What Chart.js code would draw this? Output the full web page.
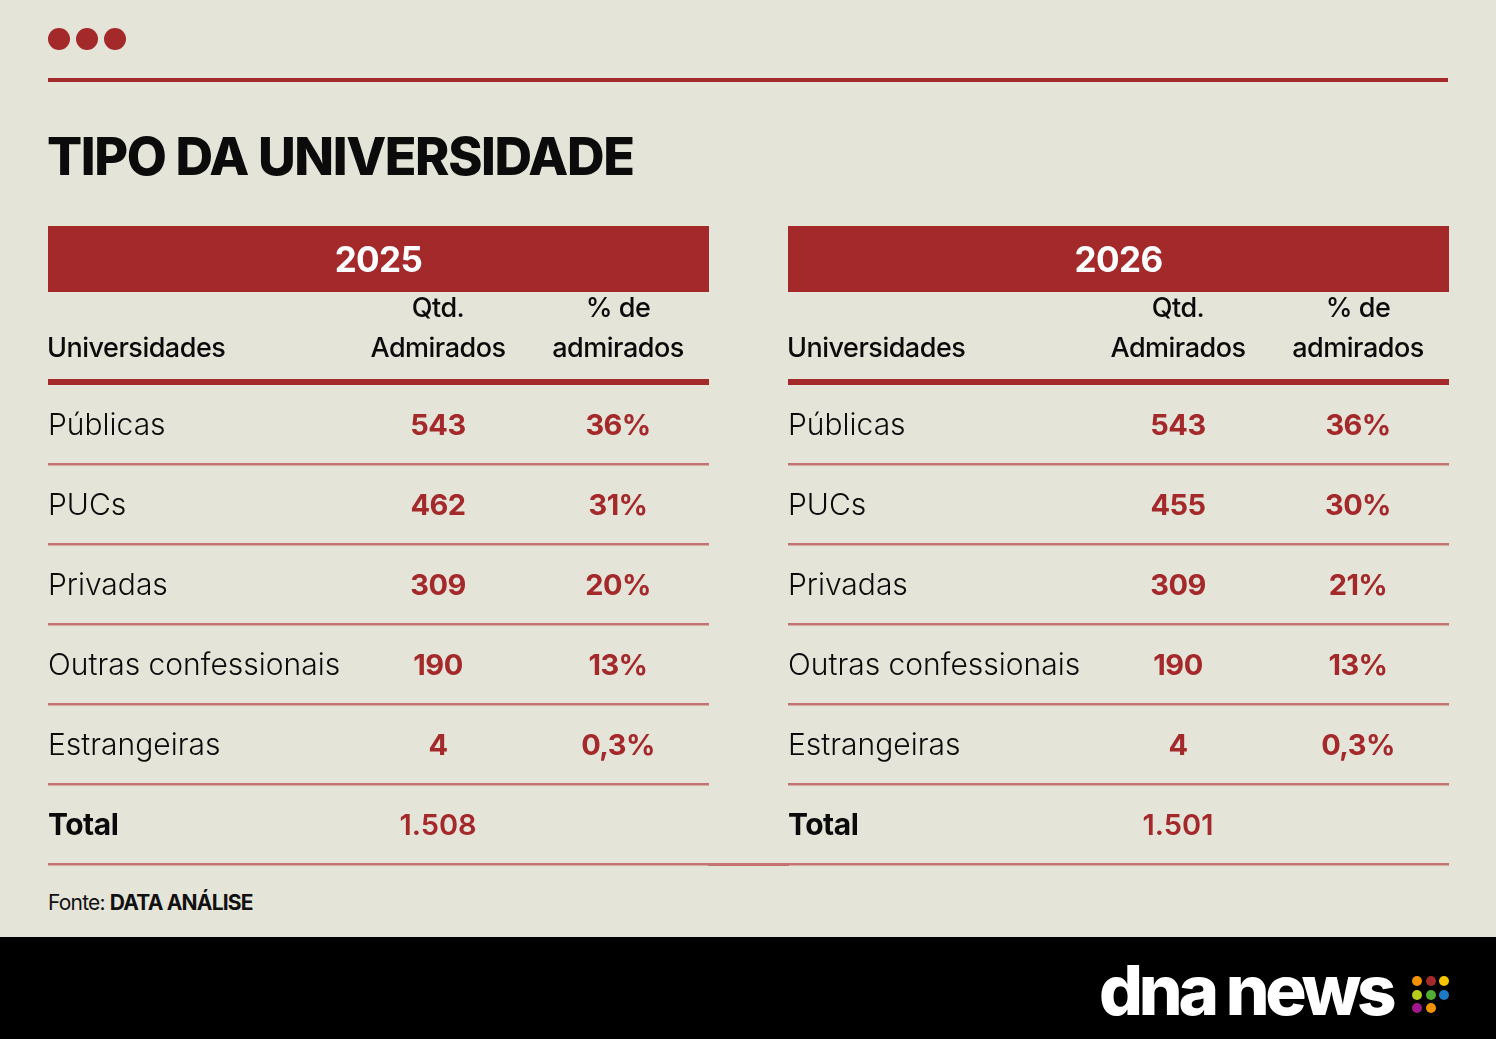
<!DOCTYPE html>
<html lang="pt-BR">
<head>
<meta charset="utf-8">
<title>Tipo da universidade</title>
<script src="https://cdn.jsdelivr.net/npm/chart.js@4/dist/chart.umd.min.js"></script>
<style>
  html, body { margin: 0; padding: 0; }
  body {
    width: 1496px; height: 1039px; position: relative; overflow: hidden;
    background: #e5e4d9; font-family: Inter, "Noto Sans", sans-serif; color: #111;
  }
  .dot { position: absolute; top: 28px; width: 22px; height: 22px; border-radius: 50%; background: #a4292b; }
  .rule { position: absolute; left: 48px; top: 78px; width: 1400px; height: 4px; background: #a4292b; }
  .title {
    position: absolute; left: 47px; top: 131px; margin: 0; line-height: 1;
    font-size: 52px; font-weight: 800; letter-spacing: -1.4px; color: #0b0b0b; white-space: nowrap;
  }
  .table-box { position: absolute; top: 226px; width: 661px; height: 642px; }
  .gap-line { position: absolute; left: 708px; top: 863px; width: 81px; height: 2.5px; background: #c47373; }
  .source {
    position: absolute; left: 48px; top: 892px; line-height: 1; font-size: 21px;
    letter-spacing: -0.8px; white-space: nowrap;
  }
  .source b { font-weight: 700; }
  .footer { position: absolute; left: 0; top: 937px; width: 1496px; height: 102px; background: #000; }
  .logo {
    position: absolute; left: 1099px; top: 956px; line-height: 1; font-size: 69px; font-weight: 800;
    letter-spacing: -4.2px; color: #fff; white-space: nowrap;
  }
  .ldot { position: absolute; width: 10px; height: 10px; border-radius: 50%; }
</style>
</head>
<body>
<div class="dot" style="left:48px"></div>
<div class="dot" style="left:76px"></div>
<div class="dot" style="left:104px"></div>
<div class="rule"></div>
<h1 class="title">TIPO DA UNIVERSIDADE</h1>

<div class="table-box" style="left:48px"><canvas id="table2025"></canvas></div>
<div class="table-box" style="left:788px"><canvas id="table2026"></canvas></div>
<div class="gap-line"></div>

<div class="source">Fonte: <b>DATA ANÁLISE</b></div>

<div class="footer"></div>
<div class="logo">dna news</div>
<div id="logoDots"></div>

<script>
// Data
const universities = ['Públicas', 'PUCs', 'Privadas', 'Outras confessionais', 'Estrangeiras'];
const totalLabel = 'Total';
const years = ['2025', '2026'];
const columnHeads = [['', 'Universidades'], ['Qtd.', 'Admirados'], ['% de', 'admirados']];

const admired2025 = [543, 462, 309, 190, 4];
const percent2025 = [36, 31, 20, 13, 0.3];
const total2025 = 1508;

const admired2026 = [543, 455, 309, 190, 4];
const percent2026 = [36, 30, 21, 13, 0.3];
const total2026 = 1501;

// Styles
const RED = '#a4292b';
const ROW_LINE = '#c47373';
const INK = '#0b0b0b';
const FONT = 'Inter, "Noto Sans", sans-serif';
const colX = [0, 390, 570];   // column anchors on the x scale (px inside the table)

const fmtNum = v => v.toLocaleString('pt-BR');
const fmtPct = v => v.toLocaleString('pt-BR') + '%';

// Draws header band, column heads and every cell text at the element positions
const tablePlugin = {
  id: 'tableText',
  beforeDatasetsDraw(chart) {
    const { ctx, chartArea, scales } = chart;
    const opts = chart.options.plugins.tableText;
    const w = chart.width;
    ctx.save();
    // year band
    ctx.fillStyle = RED;
    ctx.fillRect(0, 0, w, 66);
    ctx.fillStyle = '#fff';
    ctx.font = '700 35px ' + FONT;
    ctx.letterSpacing = '-0.6px';
    ctx.textAlign = 'center';
    ctx.textBaseline = 'alphabetic';
    ctx.fillText(opts.year, w / 2, 46);
    // column heads
    ctx.fillStyle = INK;
    ctx.font = '500 27px ' + FONT;
    ctx.letterSpacing = '-0.5px';
    columnHeads.forEach((lines, c) => {
      const x = scales.x.getPixelForValue(colX[c]);
      ctx.textAlign = c === 0 ? 'left' : 'center';
      ctx.fillText(lines[0], c === 0 ? x - 1 : x, 91);
      ctx.fillText(lines[1], c === 0 ? x - 1 : x, 131);
    });
    // thick rule under the heads
    ctx.fillStyle = RED;
    ctx.fillRect(0, chartArea.top - 5, w, 6);
    ctx.restore();
  },
  afterDatasetsDraw(chart) {
    const { ctx } = chart;
    ctx.save();
    ctx.textBaseline = 'alphabetic';
    chart.data.datasets.forEach((ds, di) => {
      const meta = chart.getDatasetMeta(di);
      meta.data.forEach((el, i) => {
        const cell = ds.data[i];
        const isTotal = cell.y === totalLabel;
        const st = isTotal ? ds.totalStyle : ds.cellStyle;
        ctx.font = st.font;
        ctx.fillStyle = st.color;
        ctx.letterSpacing = st.spacing;
        ctx.textAlign = ds.align;
        ctx.fillText(cell.text, el.x, el.y + st.lift);
      });
    });
    ctx.restore();
  }
};

function makeTable(canvasId, year, admired, percent, total) {
  const rowLabels = [...universities, totalLabel];
  new Chart(document.getElementById(canvasId), {
    type: 'scatter',
    plugins: [tablePlugin],
    data: {
      datasets: [
        {
          label: 'Universidades',
          data: rowLabels.map(r => ({ x: colX[0], y: r, text: r })),
          align: 'left',
          cellStyle: { font: '300 30px ' + FONT, color: INK, spacing: '0px', lift: 11 },
          totalStyle: { font: '700 30px ' + FONT, color: INK, spacing: '-0.5px', lift: 11 }
        },
        {
          label: 'Qtd. Admirados',
          data: rowLabels.map((r, i) => ({ x: colX[1], y: r, text: fmtNum(i < admired.length ? admired[i] : total) })),
          align: 'center',
          cellStyle: { font: '700 29px ' + FONT, color: RED, spacing: '-0.5px', lift: 10.5 },
          totalStyle: { font: '600 29px ' + FONT, color: RED, spacing: '0px', lift: 10.5 }
        },
        {
          label: '% de admirados',
          data: universities.map((r, i) => ({ x: colX[2], y: r, text: fmtPct(percent[i]) })),
          align: 'center',
          cellStyle: { font: '700 29px ' + FONT, color: RED, spacing: '-0.6px', lift: 10.5 },
          totalStyle: { font: '700 29px ' + FONT, color: RED, spacing: '-0.6px', lift: 10.5 }
        }
      ]
    },
    options: {
      responsive: true,
      maintainAspectRatio: false,
      animation: false,
      events: [],
      layout: { padding: { top: 158, bottom: 4, left: 0, right: 0 } },
      elements: { point: { radius: 0, hoverRadius: 0 } },
      plugins: {
        legend: { display: false },
        tooltip: { enabled: false },
        tableText: { year }
      },
      scales: {
        x: { type: 'linear', min: 0, max: 661, display: false },
        y: {
          type: 'category',
          labels: rowLabels,
          offset: true,
          border: { display: false },
          ticks: { display: false },
          grid: {
            offset: true,
            drawTicks: false,
            lineWidth: 2.5,
            color: c => (c.index === 0 ? 'rgba(0,0,0,0)' : ROW_LINE)
          }
        }
      }
    }
  });
}

// logo dots
const logoDotColors = ['#f39200', '#a4292b', '#f7c600', '#b5cc18', '#52ae32', '#1f7bc1', '#a3178c', '#f39200'];
const dotsBox = document.getElementById('logoDots');
logoDotColors.forEach((col, i) => {
  const d = document.createElement('div');
  d.className = 'ldot';
  d.style.background = col;
  d.style.left = (1412 + (i % 3) * 13.5) + 'px';
  d.style.top = (976 + Math.floor(i / 3) * 13.5) + 'px';
  dotsBox.appendChild(d);
});

document.fonts.ready.then(() => {
  makeTable('table2025', years[0], admired2025, percent2025, total2025);
  makeTable('table2026', years[1], admired2026, percent2026, total2026);
});
</script>
</body>
</html>
